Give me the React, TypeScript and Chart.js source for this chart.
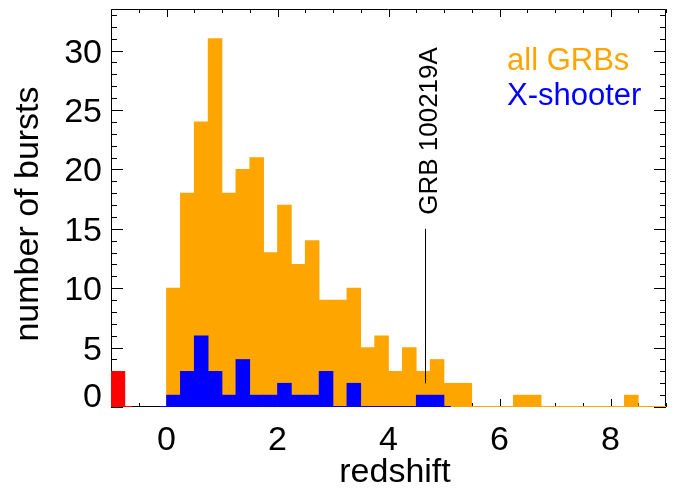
import React, { useEffect, useRef } from "react";
import { Chart, registerables } from "chart.js";

Chart.register(...registerables);

// Histogram bin centres (bin width 0.25 in redshift)
const binCenters = [
  -0.875, -0.625, -0.375, -0.125, 0.125, 0.375, 0.625, 0.875, 1.125, 1.375,
  1.625, 1.875, 2.125, 2.375, 2.625, 2.875, 3.125, 3.375, 3.625, 3.875,
  4.125, 4.375, 4.625, 4.875, 5.125, 5.375, 5.625, 5.875, 6.125, 6.375,
  6.625, 6.875, 7.125, 7.375, 7.625, 7.875, 8.125, 8.375, 8.625, 8.875,
];

// all GRBs per bin
const allGRBs = [
  0, 0, 0, 0, 10, 18, 24, 31, 18, 20,
  21, 13, 17, 12, 14, 9, 9, 10, 5, 6,
  3, 5, 3, 4, 2, 2, 0, 0, 0, 1,
  1, 0, 0, 0, 0, 0, 0, 1, 0, 0,
];

// X-shooter sample per bin
const xShooter = [
  0, 0, 0, 0, 1, 3, 6, 3, 1, 4,
  1, 1, 2, 1, 1, 3, 0, 2, 0, 0,
  0, 0, 1, 1, 0, 0, 0, 0, 0, 0,
  0, 0, 0, 0, 0, 0, 0, 0, 0, 0,
];

// bursts without redshift (plotted left of zero)
const noRedshiftBins = [-0.875];
const noRedshiftCounts = [3];

// extent of each histogram's zero line
const orangeBaseline = [0, 9];
const blueBaseline = [-0.125, 5.125];
const redBaseline = [-1, -0.625];

// axis ticks
const xRange = [-1, 9];
const yRange = [0, 33.5];
const xTickLabels = [0, 2, 4, 6, 8];
const yTickLabels = [0, 5, 10, 15, 20, 25, 30];
const xMinorStep = 0.5;
const yMinorStep = 1;

// annotation
const grbName = "GRB 100219A";
const grbRedshift = 4.667;
const grbLine = [2, 15];

const ORANGE = "#FFA500";
const BLUE = "#0000FF";
const RED = "#FF0000";
const FONT = "'Liberation Sans', Arial, Helvetica, sans-serif";

const toPoints = (xs: number[], ys: number[]) =>
  xs.map((x, i) => ({ x, y: ys[i] })).filter((p) => p.y > 0);

const framePlugin = {
  id: "idlFrame",
  beforeDatasetsDraw(chart: any) {
    const { ctx, chartArea, scales } = chart;
    const { left, right, top, bottom } = chartArea;
    const xs = scales.x;
    const ys = scales.y;
    ctx.save();
    ctx.strokeStyle = "#000";
    ctx.lineWidth = 1;
    ctx.beginPath();
    ctx.rect(left + 0.5, top + 0.5, right - left - 1, bottom - top - 1);
    ctx.stroke();
    // x ticks
    ctx.beginPath();
    for (let v = xRange[0]; v <= xRange[1] + 1e-9; v += xMinorStep) {
      const major = xTickLabels.includes(v);
      const len = major ? 8 : 4;
      const px = Math.round(xs.getPixelForValue(v)) + 0.5;
      ctx.moveTo(px, bottom);
      ctx.lineTo(px, bottom - len);
      ctx.moveTo(px, top);
      ctx.lineTo(px, top + len);
    }
    // y ticks
    for (let v = yRange[0]; v <= yRange[1] + 1e-9; v += yMinorStep) {
      const major = yTickLabels.includes(v);
      const len = major ? 12 : 6;
      const py = Math.round(ys.getPixelForValue(v)) + 0.5;
      ctx.moveTo(left, py);
      ctx.lineTo(left + len, py);
      ctx.moveTo(right, py);
      ctx.lineTo(right - len, py);
    }
    ctx.stroke();
    ctx.restore();
  },
  afterDraw(chart: any) {
    const { ctx, chartArea, scales } = chart;
    const { left, bottom } = chartArea;
    const xs = scales.x;
    const ys = scales.y;
    ctx.save();
    ctx.fillStyle = "#000";
    ctx.font = `34px ${FONT}`;
    ctx.textBaseline = "alphabetic";
    // y tick labels
    ctx.textAlign = "right";
    yTickLabels.forEach((v) => {
      const py = ys.getPixelForValue(v);
      ctx.fillText(String(v), left - 9, Math.min(py + 12, bottom));
    });
    // x tick labels
    ctx.textAlign = "center";
    xTickLabels.forEach((v) => {
      ctx.fillText(String(v), xs.getPixelForValue(v), bottom + 43);
    });
    // x title
    ctx.fillText("redshift", 395, 482);
    // y title
    ctx.save();
    ctx.translate(38, 214);
    ctx.rotate(-Math.PI / 2);
    ctx.textAlign = "center";
    ctx.fillText("number of bursts", 0, 0);
    ctx.restore();
    // legend
    ctx.textAlign = "left";
    ctx.font = `31px ${FONT}`;
    ctx.fillStyle = ORANGE;
    ctx.fillText("all GRBs", 507, 70);
    ctx.fillStyle = BLUE;
    ctx.fillText("X-shooter", 507, 105);
    // annotation text
    ctx.fillStyle = "#000";
    ctx.font = `26px ${FONT}`;
    ctx.save();
    ctx.translate(xs.getPixelForValue(grbRedshift) + 11, ys.getPixelForValue(grbLine[1]) - 14);
    ctx.rotate(-Math.PI / 2);
    ctx.textAlign = "left";
    ctx.fillText(grbName, 0, 0);
    ctx.restore();
    ctx.restore();
  },
};

export default function App() {
  const ref = useRef<HTMLCanvasElement | null>(null);
  useEffect(() => {
    document.body.style.margin = "0";
    const canvas = ref.current;
    if (!canvas) return;
    const barCommon = {
      type: "bar" as const,
      grouped: false,
      barPercentage: 1,
      categoryPercentage: 1,
      borderWidth: 0,
    };
    const lineCommon = {
      type: "line" as const,
      pointRadius: 0,
      borderWidth: 2,
      fill: false,
    };
    const chart = new Chart(canvas, {
      type: "bar",
      data: {
        datasets: [
          {
            ...lineCommon,
            label: "GRB line",
            data: grbLine.map((y) => ({ x: grbRedshift, y })),
            borderColor: "#000",
            borderWidth: 1,
            order: 0,
          },
          {
            ...lineCommon,
            label: "blue base",
            data: blueBaseline.map((x) => ({ x, y: 0 })),
            borderColor: BLUE,
            order: 1,
          },
          {
            ...lineCommon,
            label: "red base",
            data: redBaseline.map((x) => ({ x, y: 0 })),
            borderColor: RED,
            order: 1,
          },
          {
            ...barCommon,
            label: "no redshift",
            data: toPoints(noRedshiftBins, noRedshiftCounts),
            backgroundColor: RED,
            order: 2,
          },
          {
            ...barCommon,
            label: "X-shooter",
            data: toPoints(binCenters, xShooter),
            backgroundColor: BLUE,
            order: 3,
          },
          {
            ...lineCommon,
            label: "orange base",
            data: orangeBaseline.map((x) => ({ x, y: 0 })),
            borderColor: ORANGE,
            order: 4,
          },
          {
            ...barCommon,
            label: "all GRBs",
            data: toPoints(binCenters, allGRBs),
            backgroundColor: ORANGE,
            order: 5,
          },
        ] as any,
      },
      options: {
        responsive: false,
        animation: false,
        layout: { padding: { left: 0, top: 9, right: 13, bottom: 0 } },
        plugins: {
          legend: { display: false },
          tooltip: { enabled: false },
        },
        scales: {
          x: {
            type: "linear",
            min: xRange[0],
            max: xRange[1],
            offset: false,
            grid: { display: false, drawTicks: false },
            border: { display: false },
            ticks: { display: false },
            afterFit: (s: any) => {
              s.height = 81;
            },
          },
          y: {
            type: "linear",
            min: yRange[0],
            max: yRange[1],
            grid: { display: false, drawTicks: false },
            border: { display: false },
            ticks: { display: false },
            afterFit: (s: any) => {
              s.width = 111;
            },
          },
        },
      } as any,
      plugins: [framePlugin],
    });
    return () => chart.destroy();
  }, []);
  return <canvas ref={ref} width={679} height={488} style={{ display: "block" }} />;
}
